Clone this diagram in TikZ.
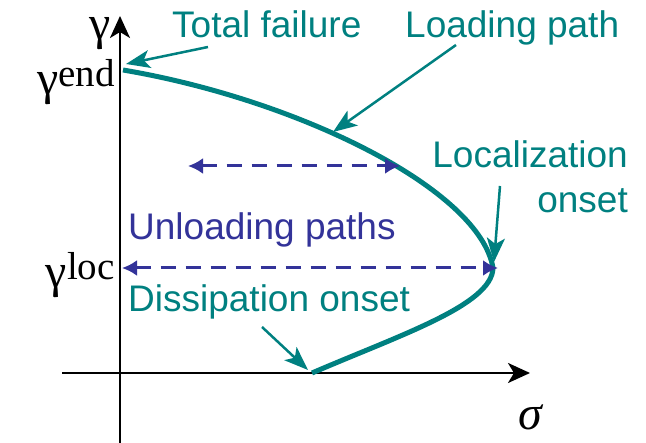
\documentclass[tikz,border=0pt]{standalone}
\usepackage{fontspec}
\setmainfont{Liberation Sans}
\newfontfamily\serifgr{Liberation Serif}
\usetikzlibrary{arrows.meta}
\definecolor{tealc}{RGB}{0,128,128}
\definecolor{bluec}{RGB}{51,51,153}
\newcommand{\gsym}{{\fontsize{48}{50}\selectfont\serifgr γ}}
\newcommand{\supx}[1]{\raisebox{8pt}{\fontsize{39}{41}\selectfont\serifgr #1}}
\begin{document}
\begin{tikzpicture}[x=1pt,y=-1pt,
  lbl/.style={font=\fontsize{37}{40}\selectfont, inner sep=0pt},
  tlbl/.style={lbl, text=tealc},
  blbl/.style={lbl, text=bluec},
  mlbl/.style={inner sep=0pt},
  axisline/.style={line width=2.5pt, -{Stealth[length=22pt,width=20pt,inset=6pt]}},
  pointer/.style={tealc, line width=2.5pt, -{Stealth[length=24pt,width=18pt,inset=6pt]}},
  unload/.style={bluec, line width=3pt, dash pattern=on 15pt off 10pt, {Latex[length=15pt,width=16pt]}-{Latex[length=15pt,width=16pt]}},
  pathline/.style={tealc, line width=5pt}]
\useasboundingbox (0,0) rectangle (646,443);
% axes
\coordinate (ybot) at (120,443);
\coordinate (ytop) at (120,16);
\coordinate (xl) at (62,373);
\coordinate (xr) at (530,373);
\draw[axisline] (ybot) -- (ytop);
\draw[axisline] (xl) -- (xr);
% curve
\coordinate (pend) at (123,70);
\coordinate (ploc) at (493,268);
\coordinate (pdis) at (312,373);
\draw[pathline] (pend) .. controls (300,100) and (480,190) .. (ploc)
  .. controls (492,305) and (400,335) .. (pdis);
% dashed unloading arrows
\coordinate (u1a) at (188,166);
\coordinate (u1b) at (400,166);
\coordinate (u2a) at (122,268);
\coordinate (u2b) at (498,268);
\draw[unload] (u1a) -- (u1b);
\draw[unload] (u2a) -- (u2b);
% labels
\node[mlbl, anchor=base east] (gam) at (111,40) {\gsym};
\node[mlbl, anchor=base east] (gend) at (115,95) {\gsym\supx{end}};
\node[mlbl, anchor=base east] (gloc) at (115,288) {\gsym\supx{loc}};
\node[mlbl, anchor=base] (sig) at (530,430) {{\fontsize{48}{50}\selectfont\serifgr\itshape σ}};
\node[tlbl, anchor=base west] (tf) at (172,38) {Total failure};
\node[tlbl, anchor=base west] (lp) at (405,38) {Loading path};
\node[tlbl, anchor=base east] (lo1) at (628,168) {Localization};
\node[tlbl, anchor=base east] (lo2) at (628,213) {onset};
\node[blbl, anchor=base west] (up) at (128,240) {Unloading paths};
\node[tlbl, anchor=base west] (dis) at (128,312) {Dissipation onset};
% pointers
\coordinate (tfs) at (208,47);
\coordinate (tft) at (126,64);
\coordinate (lps) at (456,45);
\coordinate (lpt) at (333,132);
\coordinate (los) at (500,186);
\coordinate (lot) at (494,262);
\coordinate (dss) at (262,327);
\coordinate (dst) at (308,370);
\draw[pointer] (tfs) -- (tft);
\draw[pointer] (lps) -- (lpt);
\draw[pointer] (los) -- (lot);
\draw[pointer] (dss) -- (dst);
\end{tikzpicture}
\end{document}
